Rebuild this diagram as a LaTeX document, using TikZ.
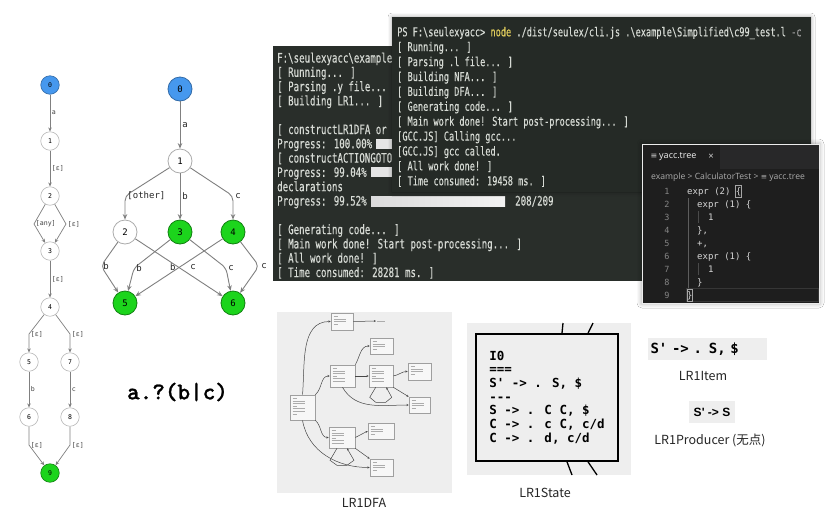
\documentclass[tikz,border=0pt]{standalone}
\usepackage{fontspec}
\setmainfont{Noto Sans CJK SC}
\newfontfamily\termfont[FakeStretch=0.7,FakeBold=0.3,Ligatures=TeXOff]{DejaVu Sans Mono}
\newfontfamily\codefont[Ligatures=TeXOff]{DejaVu Sans Mono}
\newfontfamily\regexfont[FakeBold=1]{lmmonolt10-bold.otf}
\newfontfamily\uifont{Open Sans}
\newfontfamily\prodfont[Ligatures=TeXOff]{Liberation Sans}
\newfontfamily\symfont{DejaVu Sans}
\usepackage{tikz}
\usetikzlibrary{arrows.meta,shadows.blur}

\definecolor{startblue}{RGB}{70,152,238}
\definecolor{acceptgreen}{RGB}{28,212,28}
\definecolor{edgegray}{RGB}{128,128,128}
\definecolor{termback}{RGB}{41,46,42}
\definecolor{termfront}{RGB}{37,42,38}
\definecolor{termtext}{RGB}{214,218,212}
\definecolor{termyellow}{RGB}{224,204,92}
\definecolor{codebg}{RGB}{30,30,30}
\definecolor{tabbar}{RGB}{40,40,41}
\definecolor{codetext}{RGB}{214,214,214}
\definecolor{linenum}{RGB}{133,133,133}
\definecolor{panelgray}{RGB}{238,238,238}

\newcommand\ddd{...}

\tikzset{
  nfa/.style={circle, draw=gray!55, fill=white, line width=0.6pt, minimum size=18.5pt, inner sep=0pt, font=\codefont\fontsize{6.5}{7}\selectfont},
  dfa/.style={circle, draw=gray!65, fill=white, line width=0.8pt, minimum size=24pt, inner sep=0pt, font=\codefont\fontsize{9}{10}\selectfont},
  nedge/.style={draw=edgegray, line width=0.7pt, -{Stealth[length=4pt,width=3.5pt]}},
  dedge/.style={draw=edgegray, line width=0.9pt, rounded corners=5pt, -{Stealth[length=5.5pt,width=4.5pt]}},
  nlbl/.style={font=\codefont\fontsize{6.6}{7}\selectfont, inner sep=1.5pt, text=black!75},
  dlbl/.style={font=\codefont\fontsize{9}{10}\selectfont, inner sep=2pt, text=black!85},
  backline/.style={anchor=west, inner sep=0pt, text height=9pt, text depth=0pt, text=termtext, font=\termfont\fontsize{13}{14}\selectfont},
  frontline/.style={anchor=west, inner sep=0pt, text height=8.6pt, text depth=0pt, text=termtext, font=\termfont\fontsize{12.3}{13}\selectfont},
  bar/.style={fill=white!80!gray},
  codeline/.style={anchor=west, inner sep=0pt, text height=7pt, text depth=0pt, text=codetext, font=\codefont\fontsize{9}{10}\selectfont},
  linenum/.style={inner sep=0pt, text height=7pt, text depth=0pt, text=linenum, font=\codefont\fontsize{8.5}{10}\selectfont},
  guide/.style={draw=gray!45!codebg, line width=0.6pt},
  minibox/.style={draw=gray!75, fill=white!55!panelgray, line width=0.6pt, inner sep=0pt},
  minitext/.style={draw=gray!65, line width=0.6pt},
  miniedge/.style={draw=gray!55!black, line width=0.5pt, -{Stealth[length=2.2pt,width=2pt]}},
  stub/.style={draw=black, line width=1.3pt},
  caption/.style={font=\fontsize{12.5}{14}\selectfont, text=black!85, inner sep=0pt}
}

\begin{document}
\begin{tikzpicture}[x=1pt, y=-1pt]
\useasboundingbox[fill=white] (0,0) rectangle (826,512);

% NFA of a.?(b|c)
\node[nfa, fill=startblue, draw=startblue!70!black] (n0) at (50,85) {0};
\node[nfa] (n1) at (50,141) {1};
\node[nfa] (n2) at (50,196) {2};
\node[nfa] (n3) at (50,251) {3};
\node[nfa] (n4) at (50,307) {4};
\node[nfa] (n5) at (29,362) {5};
\node[nfa] (n7) at (70,362) {7};
\node[nfa] (n6) at (29,417) {6};
\node[nfa] (n8) at (70,417) {8};
\node[nfa, fill=acceptgreen, draw=acceptgreen!60!black] (n9) at (50,473) {9};

\draw[nedge] (n0) -- (n1) node[nlbl, midway, right] {a};
\draw[nedge] (n1) -- (n2) node[nlbl, midway, right] {[ε]};
\draw[nedge] (n2) -- (34,224) node[nlbl, right] {[any]} -- (n3);
\draw[nedge] (n2) -- (66,224) node[nlbl, right] {[ε]} -- (n3);
\draw[nedge] (n3) -- (n4) node[nlbl, midway, right] {[ε]};
\draw[nedge] (n4) -- (29,334) node[nlbl, right] {[ε]} -- (n5);
\draw[nedge] (n4) -- (70,334) node[nlbl, right] {[ε]} -- (n7);
\draw[nedge] (n5) -- (n6) node[nlbl, midway, right] {b};
\draw[nedge] (n7) -- (n8) node[nlbl, midway, right] {c};
\draw[nedge] (n6) -- (29,445) node[nlbl, right] {[ε]} -- (n9);
\draw[nedge] (n8) -- (70,445) node[nlbl, right] {[ε]} -- (n9);

% DFA
\node[dfa, fill=startblue, draw=startblue!70!black] (d0) at (180,89) {0};
\node[dfa] (d1) at (180,161) {1};
\node[dfa] (d2) at (125,232) {2};
\node[dfa, fill=acceptgreen, draw=acceptgreen!60!black] (d3) at (180,232) {3};
\node[dfa, fill=acceptgreen, draw=acceptgreen!60!black] (d4) at (233,232) {4};
\node[dfa, fill=acceptgreen, draw=acceptgreen!60!black] (d5) at (125,303) {5};
\node[dfa, fill=acceptgreen, draw=acceptgreen!60!black] (d6) at (233,303) {6};

\draw[dedge] (d0) -- (d1) node[dlbl, midway, right] {a};
\draw[dedge] (d1) -- (125,196) node[dlbl, right] {[other]} -- (d2);
\draw[dedge] (d1) -- (d3) node[dlbl, midway, right] {b};
\draw[dedge] (d1) -- (233,196) node[dlbl, right] {c} -- (d4);
\draw[dedge] (d2) -- (101,266) node[dlbl, right] {b} -- (d5);
\draw[dedge] (d2) -- (d6) node[dlbl, pos=0.5, right=9pt] {c};
\draw[dedge] (d3) -- (134,268) node[dlbl, right] {b} -- (d5);
\draw[dedge] (d3) -- (226,268) node[dlbl, right] {c} -- (d6);
\draw[dedge] (d4) -- (d5) node[dlbl, pos=0.5, left=1pt] {b};
\draw[dedge] (d4) -- (259,266) node[dlbl, right] {c} -- (d6);

\node[font=\regexfont\fontsize{24}{25}\selectfont] (regex) at (177.5,392) {a.?(b|c)};

% back terminal (seuyacc)
\fill[termback] (273,46) rectangle (700,281);
\foreach \txt [count=\i] in {{F:\textbackslash seulexyacc\textbackslash example}, {[ Running\ddd{} ]}, {[ Parsing .y file\ddd{} ]}, {[ Building LR1\ddd{} ]}, {}, {[ constructLR1DFA or}, {Progress: 100.00\%}, {[ constructACTIONGOTO}, {Progress: 99.04\%}, {declarations}, {Progress: 99.52\%}, {}, {[ Generating code\ddd{} ]}, {[ Main work done! Start post-processing\ddd{} ]}, {[ All work done! ]}, {[ Time consumed: 28281 ms. ]}}
  \node[backline] (bl\i) at (277,{58+14.3*(\i-1)}) {\txt};
\fill[bar] (376,138.5) rectangle (400,148.5);
\fill[bar] (371,167) rectangle (400,177);
\fill[left color=white!72!gray, right color=white!90!gray] (371,196) rectangle (505,206);
\node[backline] (count) at (515,201) {208/209};

% front terminal (seulex)
\fill[termfront, blur shadow={shadow xshift=0pt, shadow yshift=0pt, shadow blur radius=4pt, shadow opacity=35}] (392,17) rectangle (811,192);
\foreach \txt [count=\i] in {{PS F:\textbackslash seulexyacc> {\color{termyellow}node} ./dist/seulex/cli.js .\textbackslash example\textbackslash Simplified\textbackslash c99\_test.l {\color{gray!80}-c}}, {[ Running\ddd{} ]}, {[ Parsing .l file\ddd{} ]}, {[ Building NFA\ddd{} ]}, {[ Building DFA\ddd{} ]}, {[ Generating code\ddd{} ]}, {[ Main work done! Start post-processing\ddd{} ]}, {[GCC.JS] Calling gcc\ddd}, {[GCC.JS] gcc called.}, {[ All work done! ]}, {[ Time consumed: 19458 ms. ]}}
  \node[frontline] (fl\i) at (397,{32+14.9*(\i-1)}) {\txt};

% yacc.tree editor
\path[fill=codebg, draw=white!85!gray, line width=1pt, blur shadow={shadow xshift=0pt, shadow yshift=0pt, shadow blur radius=5pt, shadow opacity=40}] (642,144) rectangle (819,303);
\fill[tabbar] (642.5,144.5) rectangle (818.5,169);
\fill[codebg] (642.5,144.5) rectangle (720,169);
\node[font=\symfont\fontsize{8}{9}\selectfont, text=codetext, inner sep=0pt] (tabicon) at (654,156.5) {≡};
\node[font=\uifont\fontsize{9}{10}\selectfont, text=white!90!gray, anchor=west, inner sep=0pt] (tabname) at (659,156.5) {yacc.tree};
\node[font=\uifont\fontsize{9.5}{10}\selectfont, text=codetext, inner sep=0pt] (tabclose) at (711,156.5) {×};
\node[font=\uifont\fontsize{8.6}{10}\selectfont, text=gray!65, anchor=west, inner sep=0pt] (crumbs) at (651,177.5) {example > CalculatorTest > {\symfont\fontsize{7.5}{9}\selectfont ≡} yacc.tree};
\draw[draw=gray!25!codebg, line width=0.8pt] (686,288.5) rectangle (818,301.5);
\draw[guide, draw=gray!65!codebg] (688.5,198) -- (688.5,288);
\draw[guide] (698.5,211) -- (698.5,223);
\draw[guide] (698.5,263) -- (698.5,275);
\draw[draw=gray!70, line width=0.5pt] (735.5,185.5) rectangle (741.5,197);
\draw[draw=gray!70, line width=0.5pt] (686.8,289.5) rectangle (692.5,301);
\foreach \i in {1,...,9}
  \node[linenum] (ln\i) at (667,{191+13*(\i-1)}) {\i};
\node[codeline] (c1) at (687,191) {expr (2) \{};
\node[codeline] (c2) at (697,204) {expr (1) \{};
\node[codeline] (c3) at (708,217) {1};
\node[codeline] (c4) at (697,230) {\},};
\node[codeline] (c5) at (697,243) {+,};
\node[codeline] (c6) at (697,256) {expr (1) \{};
\node[codeline] (c7) at (708,269) {1};
\node[codeline] (c8) at (697,282) {\}};
\node[codeline] (c9) at (687,295) {\}};

% LR1DFA thumbnail
\fill[panelgray] (277,312) rectangle (452,493);
\node[minibox, minimum width=25pt, minimum height=25pt] (mA) at (302.5,407.5) {};
\node[minibox, minimum width=22pt, minimum height=17pt] (mB) at (342,321.5) {};
\node[minibox, minimum width=23pt, minimum height=16pt] (mC) at (381.5,346) {};
\node[minibox, minimum width=25pt, minimum height=22pt] (mD) at (342.5,376) {};
\node[minibox, minimum width=24pt, minimum height=22pt] (mE) at (381,376) {};
\node[minibox, minimum width=23pt, minimum height=17pt] (mF) at (419.5,371.5) {};
\node[minibox, minimum width=21pt, minimum height=16pt] (mG) at (419.5,405) {};
\node[minibox, minimum width=26pt, minimum height=21pt] (mH) at (342,437.5) {};
\node[minibox, minimum width=26pt, minimum height=16pt] (mI) at (381,431) {};
\node[minibox, minimum width=23pt, minimum height=17pt] (mJ) at (381.5,467.5) {};
\coordinate (macc) at (376,321);
\foreach \b/\n in {mA/7, mB/4, mC/4, mD/6, mE/6, mF/4, mG/4, mH/6, mI/4, mJ/4}
  \foreach \k in {1,...,\n}
    \draw[minitext] ([shift={(3,1+2.6*\k)}]\b.north west) -- ++({mod(\k,3)==1 ? 4 : 12},0);
\draw[minitext] ([shift={(1,0)}]macc) -- ++(8,0);
\draw[miniedge] (mA.north) to[out=85, in=180] (mB.west);
\draw[miniedge] (mA.north east) to[out=40, in=180] (mD.west);
\draw[miniedge] (mA.south east) to[out=-40, in=180] (mH.west);
\draw[miniedge] (mA.south) to[out=-80, in=180] (mJ.west);
\draw[miniedge] (mB.east) -- (macc);
\draw[miniedge] (mD.north east) to[out=60, in=180] (mC.west);
\draw[miniedge] (mD.east) -- (mE.west);
\draw[miniedge] (mD.south) to[out=-60, in=180] (mG.west);
\draw[miniedge] (mE.east) to[out=10, in=180] (mF.west);
\draw[miniedge] (mE.south east) -- (mG.north west);
\draw[miniedge] (mH.east) -- (mI.west);
\draw[miniedge] (mH.south east) -- (mJ.north west);
\draw[miniedge] (mE.-115) -- ++(-6,10) -- ++(6,5) -- ++(10,0) -- ++(6,-5) -- (mE.-65);
\draw[miniedge] (mH.-115) -- ++(-7,12) -- ++(7,5) -- ++(10,0) -- ++(7,-5) -- (mH.-65);
\node[caption] (dfacap) at (364,503) {LR1DFA};

% LR1State
\fill[panelgray] (467,323) rectangle (631,475);
\node[draw=black, line width=1.6pt, fill=panelgray, minimum width=142pt, minimum height=127pt, align=left, font=\codefont\bfseries\fontsize{12.5}{13.7}\selectfont] (state) at (547,397.5) {I0\\===\\S' -> . S, \$\\---\\S -> . C C, \$\\C -> . c C, c/d\\C -> . d, c/d};
\coordinate (in1) at (563,323);
\coordinate (in2) at (593,323);
\coordinate (out1) at (572,475);
\coordinate (out2) at (597,475);
\draw[stub] (in1) -- ([xshift=15pt]state.north);
\draw[stub] (in2) -- ([xshift=41pt]state.north);
\draw[stub] ([xshift=20pt]state.south) -- (out1);
\draw[stub] ([xshift=41pt]state.south) -- (out2);
\node[caption] (statecap) at (545,493) {LR1State};

% LR1Item and LR1Producer
\node[fill=panelgray, text width=113pt, align=left, inner xsep=3pt, minimum height=22pt, font=\codefont\bfseries\fontsize{14}{15}\selectfont] (item) at (707,349) {S' -> . S, \$};
\node[caption] (itemcap) at (703,376) {LR1Item};
\node[fill=panelgray, minimum width=46pt, minimum height=22pt, inner sep=0pt, font=\prodfont\bfseries\fontsize{12}{13}\selectfont] (prod) at (712,412) {S' -> S};
\node[caption] (prodcap) at (710,440) {LR1Producer (无点)};
\end{tikzpicture}
\end{document}
